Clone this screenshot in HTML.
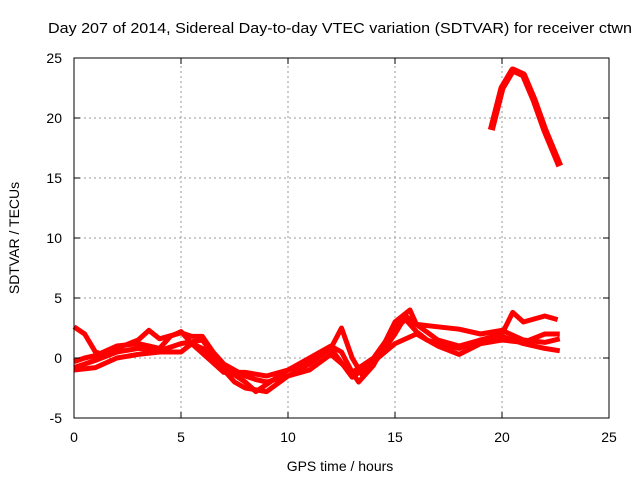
<!DOCTYPE html>
<html><head><meta charset="utf-8"><style>
body{margin:0;background:#fff;}
svg{display:block;font-family:"Liberation Sans",sans-serif;}
</style></head><body>
<svg id="chart" width="640" height="480" viewBox="0 0 640 480">
<rect width="640" height="480" fill="#fff"/>
<text x="48" y="33" font-size="15" textLength="584" lengthAdjust="spacingAndGlyphs">Day 207 of 2014, Sidereal Day-to-day VTEC variation (SDTVAR) for receiver ctwn</text>
<text transform="translate(19,238) rotate(-90)" font-size="14" text-anchor="middle">SDTVAR / TECUs</text>
<text x="340" y="471" font-size="14" text-anchor="middle">GPS time / hours</text>
<g id="grid"></g><g id="series"></g><g id="axes"></g>
</svg>
<script>
const xTicks=[0,5,10,15,20,25];
const yTicks=[-5,0,5,10,15,20,25];
const t1h=[0,0.5,1,1.5,2,3,3.5,4,5,5.5,6,6.5,7,8,8.5,9,10,11,12,12.5,13,13.5,14,15,15.5,16,17,18,19,20,21,22,22.7];
const t1v=[2.6,2,0.5,0.2,0.8,1.5,2.3,1.6,2.1,1.8,1.8,0.5,-0.5,-1.5,-1.8,-2,-1.5,-0.5,0.8,2.5,0,-1.5,-0.5,2,3.5,2.8,2.6,2.4,2,2.3,1.5,1.3,1.6];
const t2h=[0,0.5,1,2,3,4,5,6,6.5,7,7.5,8,9,10,11,12,13,13.3,14,15,15.7,16,17,18,19,20,20.5,21,22,22.6];
const t2v=[-0.8,-0.5,-0.2,0.5,0.8,0.6,1.2,1.5,0.3,-1,-2,-2.5,-2.8,-1.5,-1,0.3,-1.2,-2,-0.6,3,4,2.8,1.5,1,1.5,2,3.8,3,3.5,3.2];
const t3h=[0,0.5,1,2,3,4,4.5,5,5.5,6,7,8,8.5,9,10,11,12,12.5,13,14,15,15.5,16,16.5,17,18,19,20,21,22,22.7];
const t3v=[-0.3,0,0.2,1,1.2,0.8,1.8,2.2,1.2,0.8,-0.8,-2,-2.8,-2.2,-1,0,1,0.5,-1.2,0,2.5,3.2,2.2,1.5,1.2,0.8,1.5,1.8,1.2,0.8,0.6];
const t4h=[0,1,2,3,4,5,5.5,6,7,8,9,10,11,12,13,14,15,16,17,18,19,20,21,22,22.7];
const t4v=[-1,-0.8,0,0.3,0.5,0.5,1.2,0.4,-1.2,-1.2,-1.5,-1,-0.3,0.8,-1.6,-0.3,1.2,2,1,0.3,1.2,1.5,1.3,2,2];
const t5h=[19.5,20,20.5,21,21.5,22,22.7];
const t5v=[19,22.5,24,23.6,21.5,19,16];
const X0=74,X1=609,Y0=418,Y1=58;
const xs=v=>X0+(v-0)/(25-0)*(X1-X0);
const ys=v=>Y0-(v+5)/(30)*(Y0-Y1);
const NS="http://www.w3.org/2000/svg";
const grid=document.getElementById('grid'),axes=document.getElementById('axes'),ser=document.getElementById('series');
function mk(tag,at,parent){const e=document.createElementNS(NS,tag);for(const k in at)e.setAttribute(k,at[k]);parent.appendChild(e);return e;}
xTicks.forEach(t=>{
 if(t>0&&t<25){const g=mk('line',{x1:xs(t),x2:xs(t),y1:Y0,y2:Y1,stroke:'#999','stroke-dasharray':'2,3'},grid);
 
 }
 const l=mk('text',{x:xs(t),y:Y0+24,'font-size':14,'text-anchor':'middle'},axes);l.textContent=t;
 
 
 mk('line',{x1:xs(t),x2:xs(t),y1:Y0,y2:Y0-6,stroke:'#000'},axes);
 mk('line',{x1:xs(t),x2:xs(t),y1:Y1,y2:Y1+6,stroke:'#000'},axes);
});
yTicks.forEach(t=>{
 if(t>-5&&t<25){const g=mk('line',{x1:X0,x2:X1,y1:ys(t),y2:ys(t),stroke:'#999','stroke-dasharray':'2,3'},grid);
 
 }
 const l=mk('text',{x:X0-12,y:ys(t)+5,'font-size':14,'text-anchor':'end'},axes);l.textContent=t;
 
 
 mk('line',{x1:X0,x2:X0+6,y1:ys(t),y2:ys(t),stroke:'#000'},axes);
 mk('line',{x1:X1,x2:X1-6,y1:ys(t),y2:ys(t),stroke:'#000'},axes);
});
const fr=mk('rect',{x:X0,y:Y1,width:X1-X0,height:Y0-Y1,fill:'none',stroke:'#000'},axes);


[[t1h,t1v],[t2h,t2v],[t3h,t3v],[t4h,t4v],[t5h,t5v]].forEach((s,i)=>{
 const p=mk('polyline',{points:s[0].map((h,j)=>xs(h)+','+ys(s[1][j])).join(' '),fill:'none',stroke:'#f00','stroke-width':i==4?7:5,'stroke-linejoin':'round'},ser);
 
 
});
</script>
</body></html>
